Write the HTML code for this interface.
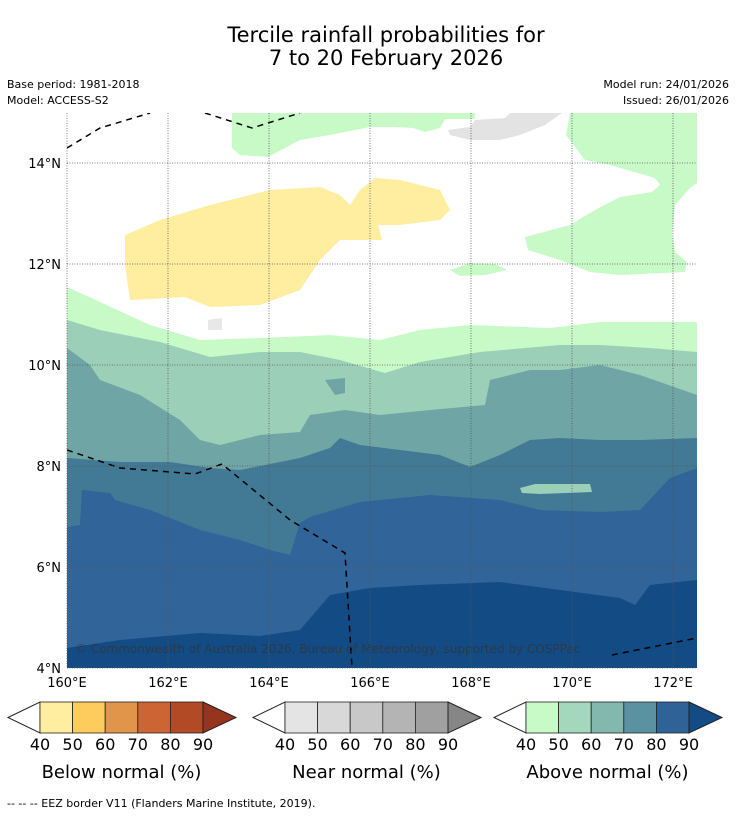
<!DOCTYPE html>
<html><head><meta charset="utf-8"><style>
body{margin:0;background:#fff;width:736px;height:816px;overflow:hidden;font-family:"Liberation Sans","DejaVu Sans",sans-serif}
</style></head><body>
<svg id="svg" width="736" height="816" viewBox="0 0 736 816" xmlns="http://www.w3.org/2000/svg" font-family="DejaVu Sans, Liberation Sans, sans-serif">
<text x="386" y="42" font-size="21" text-anchor="middle">Tercile rainfall probabilities for</text>
<text x="386" y="65" font-size="21" text-anchor="middle">7 to 20 February 2026</text>
<text x="7" y="88" font-size="11">Base period: 1981-2018</text>
<text x="7" y="104" font-size="11">Model: ACCESS-S2</text>
<text x="729" y="88" font-size="11" text-anchor="end">Model run: 24/01/2026</text>
<text x="729" y="104" font-size="11" text-anchor="end">Issued: 26/01/2026</text>
<defs><clipPath id="mc"><rect x="67" y="113" width="630" height="555"/></clipPath></defs>
<g id="map" clip-path="url(#mc)"></g>
<g id="axes"></g>
<g id="legends"></g>
<text x="7" y="807" font-size="11">--  --  -- EEZ border V11 (Flanders Marine Institute, 2019).</text>
</svg>
<script>
const lonTicks=[160,162,164,166,168,170,172];
const latTicks=[14,12,10,8,6,4];
const legendTicks=[40,50,60,70,80,90];
const belowColors=["#ffeda0","#fecc5c","#e0954a","#cd6433","#b24a26","#96341e"];
const nearColors=["#e4e4e4","#d8d8d8","#c8c8c8","#b4b4b4","#a0a0a0","#868686"];
const aboveColors=["#c8fac8","#a4d8bc","#82b8ad","#5a92a2","#2f6296","#134b85"];
const NS="http://www.w3.org/2000/svg";
const X=lon=>67+(lon-160)*50.5;
const Y=lat=>163+(14-lat)*50.5;
function mk(tag,attrs,parent){const e=document.createElementNS(NS,tag);for(const k in attrs)e.setAttribute(k,attrs[k]);parent.appendChild(e);return e;}
const map=document.getElementById('map');
mk('rect',{x:67,y:113,width:630,height:555,fill:'#ffffff'},map);
function band(pts,fill,name){
  const d='M'+pts.map(p=>p.join(',')).join(' L')+' L697,700 L67,700 Z';
  const e=mk('path',{d:d,fill:fill},map);
  
  
}
function blob(pts,fill,name){
  const e=mk('path',{d:'M'+pts.map(p=>p.join(',')).join(' L')+' Z',fill:fill},map);
  
  
}
band([[67,287],[100,302],[150,325],[200,340],[260,338],[330,335],[380,340],[420,330],[470,325],[550,328],[600,322],[697,322]],'#c8fac8','above-50-region');
band([[67,320],[100,330],[160,342],[210,357],[260,352],[300,352],[340,360],[385,373],[420,362],[480,352],[560,345],[600,345],[650,348],[697,352]],'#9ccfb7','above-60-region');
band([[67,348],[90,365],[100,380],[140,395],[180,420],[200,440],[220,445],[260,435],[300,432],[310,415],[345,410],[380,415],[430,410],[485,405],[490,380],[530,370],[560,370],[600,365],[640,375],[697,395]],'#6fa5a5','above-70-region');
band([[67,458],[120,462],[170,462],[210,468],[240,470],[265,465],[300,458],[330,448],[340,438],[360,445],[400,450],[440,455],[470,467],[500,455],[530,440],[560,438],[600,440],[640,440],[697,438]],'#427995','above-80-region');
blob([[520,488],[535,484],[590,484],[592,492],[540,494],[522,493]],'#9ccfb7','mint-patch');
band([[67,527],[80,525],[82,490],[110,493],[115,500],[150,510],[200,530],[240,540],[270,550],[290,555],[300,523],[310,517],[360,502],[430,495],[500,500],[540,510],[600,512],[640,510],[670,478],[697,468]],'#316498','above-90-region');
band([[67,648],[120,640],[200,633],[260,636],[300,630],[330,595],[370,588],[420,585],[500,582],[560,590],[620,598],[635,605],[650,585],[697,580]],'#134b85','above-max-region');
blob([[570,113],[566,135],[585,160],[610,165],[655,178],[660,185],[652,192],[620,197],[595,210],[570,225],[525,237],[528,250],[560,260],[590,272],[620,275],[685,272],[687,262],[675,252],[672,235],[675,205],[690,188],[697,183],[697,113]],'#c8fac8','green-northeast');
blob([[232,113],[475,113],[475,119],[445,119],[440,128],[425,132],[413,128],[395,127],[370,127],[330,135],[300,140],[268,157],[240,155],[232,148]],'#c8fac8','green-north');
blob([[450,270],[470,263],[495,264],[507,270],[485,275],[460,276]],'#c8fac8','green-small');
blob([[448,130],[470,127],[475,120],[505,118],[510,113],[562,113],[545,125],[520,135],[500,140],[470,140],[450,135]],'#e3e3e3','near-normal-patch');
blob([[125,235],[160,220],[210,205],[270,190],[320,187],[340,195],[350,205],[360,190],[375,178],[400,180],[440,190],[450,210],[440,220],[400,225],[378,225],[382,240],[340,240],[320,260],[300,290],[260,305],[210,307],[185,297],[130,300],[125,265]],'#ffeda0','below-normal-patch');
blob([[208,320],[222,318],[222,330],[208,330]],'#e8e8e8','gray-dot');
blob([[325,380],[345,378],[345,393],[335,395]],'#6fa5a5','teal-patch');
const eez=[[[67,148],[100,128],[150,113]],[[205,113],[252,128],[300,113]],[[67,450],[120,468],[195,474],[222,464],[290,520],[345,553],[352,668]],[[612,655],[697,638]]];
eez.forEach((l,i)=>{const e=mk('polyline',{points:l.map(p=>p.join(',')).join(' '),fill:'none',stroke:'#000','stroke-width':1.5,'stroke-dasharray':'6,5'},map);

});
mk('text',{x:75,y:653,'font-size':12,fill:'#333',opacity:0.75},map).textContent='© Commonwealth of Australia 2026, Bureau of Meteorology, supported by COSPPac';
const axes=document.getElementById('axes');
lonTicks.forEach(v=>{
  const g=mk('line',{x1:X(v),x2:X(v),y1:113,y2:668,stroke:'#555','stroke-width':0.8,'stroke-dasharray':'1,1.5'},axes);
  
  
  const t=mk('text',{x:X(v),y:687,'font-size':13,'text-anchor':'middle'},axes);
  
  
  t.textContent=v+'°E';
});
latTicks.forEach(v=>{
  const g=mk('line',{x1:67,x2:697,y1:Y(v),y2:Y(v),stroke:'#555','stroke-width':0.8,'stroke-dasharray':'1,1.5'},axes);
  
  
  const t=mk('text',{x:61,y:Y(v)+5,'font-size':13,'text-anchor':'end'},axes);
  
  
  t.textContent=v+'°N';
});
const leg=document.getElementById('legends');
function colorbar(x0,colors,title,name){
  const g=mk('g',{},leg);
  
  
  const y0=702,h=31,w=32.6,L=x0+32;
  mk('polygon',{points:`${x0},${y0+h/2} ${L},${y0} ${L},${y0+h}`,fill:'#fff',stroke:'#222','stroke-width':1},g);
  for(let i=0;i<5;i++)mk('rect',{x:L+i*w,y:y0,width:w,height:h,fill:colors[i],stroke:'#222','stroke-width':0.8},g);
  const R=L+5*w;
  mk('polygon',{points:`${R},${y0} ${R+33},${y0+h/2} ${R},${y0+h}`,fill:colors[5],stroke:'#222','stroke-width':1},g);
  legendTicks.forEach((v,i)=>{const t=mk('text',{x:L+i*w,y:750,'font-size':16,'text-anchor':'middle'},g);t.textContent=v;});
  const t=mk('text',{x:L+2.5*w,y:778,'font-size':18,'text-anchor':'middle'},g);t.textContent=title;
}
colorbar(8,belowColors,'Below normal (%)','below-normal-colorbar');
colorbar(253,nearColors,'Near normal (%)','near-normal-colorbar');
colorbar(494,aboveColors,'Above normal (%)','above-normal-colorbar');
</script>
</body></html>
